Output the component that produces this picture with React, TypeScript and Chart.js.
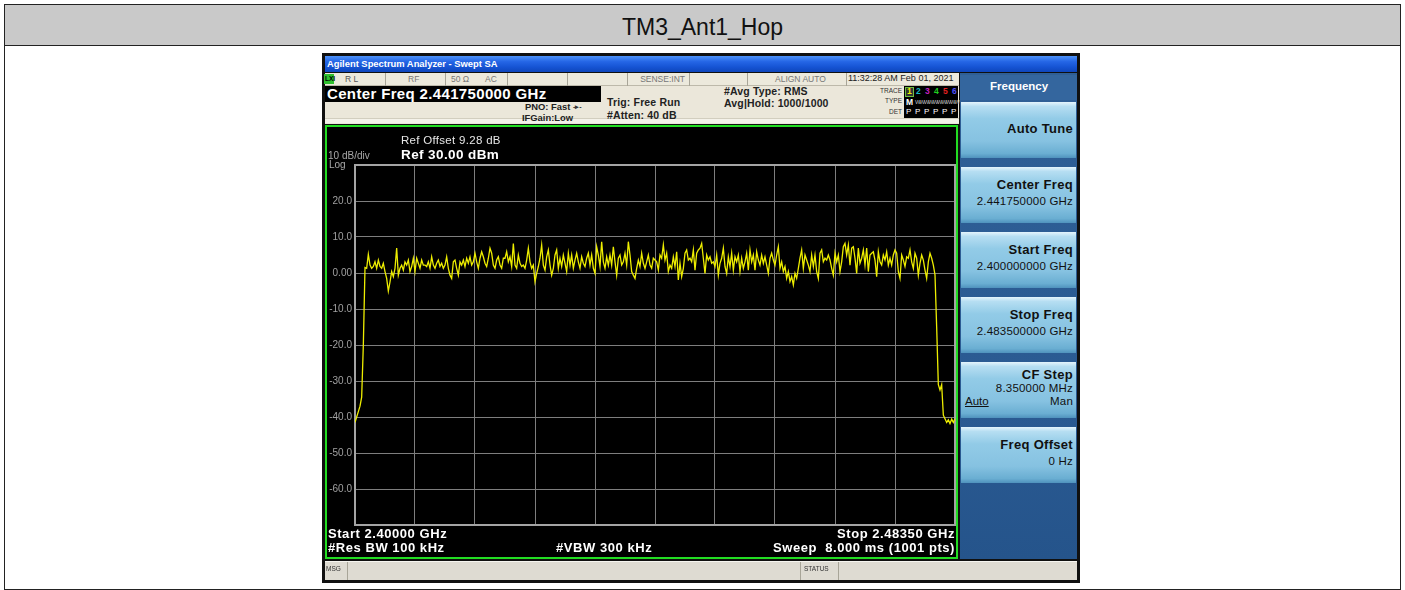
import React, { useEffect, useRef } from "react";
import { Chart, registerables } from "chart.js";

Chart.register(...registerables);

// ---- data ----
const startFreqMHz = 2400;
const stopFreqMHz = 2483.5;
const yTickValues = [30, 20, 10, 0, -10, -20, -30, -40, -50, -60, -70];
const yTickLabels = ["", "20.0", "10.0", "0.00", "-10.0", "-20.0", "-30.0", "-40.0", "-50.0", "-60.0", ""];

// trace levels (dBm), left to right
const traceSeg1 = [
  -41.5, -40.0, -38.5, -37.0, -34.5, -20.0, 1.5, 1.3, 5.2, 2.2,
  1.3, 1.8, 3.1, 1.3, 3.6, 1.8, 1.3, 2.7, 0.4, -1.5,
  -5.0, -2.5, 0.4, -1.0, 1.3, 6.9, -0.6, 1.3, 2.2, 0.8,
  3.1, 2.2, 3.6, 0.4, 1.8, 4.1, 0.4, 4.1, 2.7, 1.3,
  3.6, 2.2, 2.2, 1.8, 3.1, 1.3, 4.5, 2.2, 1.3, 2.7,
  3.6, 1.8, 2.7, 1.3, 2.2, 4.5, 1.3, -0.6, -1.5, 3.1,
  3.6, 1.3, -0.6, 3.1, 2.2, 3.6, 1.8, 4.1, 2.7, 4.5,
  2.2, 3.1, 5.5, 3.1, 1.3, 4.1, 5.9, 4.5, 2.7, 1.8,
  4.1, 6.9, 5.5, 2.2, 1.3, 3.6, 4.5, 2.2, 1.3, 4.1,
];
const traceSeg2 = [
  4.1, 5.9, 3.1, 4.5, 1.8, 8.2, 2.2, 1.3, 5.0, 2.7,
  1.8, 2.2, 1.3, 3.6, 6.9, 3.1, 1.3, 2.2, -2.4, -0.1,
  1.8, 4.1, 7.8, 2.2, 0.8, 4.5, 6.4, 2.2, -0.6, 1.3,
  5.0, 6.4, 1.3, 4.1, 1.8, 5.0, 2.7, 0.4, 5.5, 2.2,
  5.0, 1.3, 3.6, 5.5, 3.1, 1.3, 4.5, 2.7, 1.8, 4.1,
  5.5, 2.2, 5.0, 1.3, -0.1, 7.3, 5.0, 1.8, 8.7, 3.1,
  1.3, 4.5, 2.2, 5.0, 2.2, 7.3, 3.1, -0.6, 4.1, 5.0,
  2.2, 3.1, 5.5, 2.2, 8.7, 5.0, 0.4, -0.6, -1.5, 1.3,
  3.6, 1.8, 5.5, 2.7, 1.3, 3.1, 5.0, 2.2, 1.3, 4.1,
];
const traceSeg3 = [
  3.6, 3.1, 0.8, 5.0, 4.1, 7.8, 3.6, 5.5, 0.4, 2.2,
  1.3, 4.5, 1.8, 5.9, -1.9, 2.7, -1.0, 1.3, 5.5, 6.4,
  3.6, 4.1, 3.1, 6.4, 0.8, 5.5, 6.4, 6.9, 8.2, 4.1,
  -0.1, 5.0, 3.6, 4.5, 2.7, 3.1, 1.8, 5.0, -0.6, 2.7,
  4.1, 6.9, 1.8, -0.1, 4.5, 1.8, 5.5, 0.8, 4.5, 3.1,
  5.0, 0.4, 4.1, 1.3, 3.1, 5.5, 0.8, 6.4, 3.1, 5.0,
  0.8, 5.9, 3.6, 2.2, 5.0, 2.7, 4.5, 2.2, -0.1, 4.1,
  5.5, 3.6, 2.2, 5.0, 7.3, 1.3, 3.1, 0.4, 1.8, -1.5,
  0.4, -2.4, -1.0, -3.3, -0.1, -1.5, 1.3, 4.1, 6.4, 1.3,
];
const traceSeg4 = [
  5.0, 3.6, 2.2, 0.4, 5.0, 1.8, 5.0, 0.4, -1.5, 5.5,
  6.4, 3.1, 4.1, 3.6, 5.0, 3.6, 1.3, -0.6, 5.5, 3.1,
  5.0, 0.4, 3.1, 7.3, 8.2, 5.0, 7.8, 2.2, 6.9, 7.3,
  4.1, -0.1, 6.9, 2.7, 4.1, 6.4, 2.2, 6.9, 0.4, 5.0,
  5.5, 5.9, 3.6, -1.0, 5.9, 3.1, 2.2, 5.0, 3.6, 5.9,
  2.2, 4.1, 2.2, 5.0, 6.4, 5.5, 0.4, -1.5, 5.0, 3.6,
  1.8, 4.5, 4.1, 6.4, 3.1, 1.3, 5.5, 4.1, -0.6, 2.7,
  5.0, 3.6, 0.8, -1.5, 3.1, 5.5, 4.1, 2.2,
  -0.5, -15.0, -31.0, -32.5, -31.0, -39.5, -40.5, -41.5, -40.8, -41.8, -40.6, -41.5, -40.5,
];

const FONT = "'Liberation Sans', Arial, Helvetica, sans-serif";
const PAGE_W = 1405;

function T(props: any) {
  const { x, y, s, b, c, r, u, children, ls } = props;
  const style: any = {
    position: "absolute",
    top: y - s * 0.58,
    fontSize: s,
    fontWeight: b ? 700 : 400,
    color: c || "#000",
    lineHeight: 1,
    whiteSpace: "pre",
    fontFamily: FONT,
    textDecoration: u ? "underline" : undefined,
    letterSpacing: ls,
  };
  if (r) style.right = PAGE_W - x;
  else style.left = x;
  return <div style={style}>{children}</div>;
}

function Box(props: any) {
  const { l, t, w, h, style, children } = props;
  return (
    <div style={{ position: "absolute", left: l, top: t, width: w, height: h, boxSizing: "border-box", ...style }}>
      {children}
    </div>
  );
}

function SpectrumChart() {
  const ref = useRef<HTMLCanvasElement | null>(null);
  useEffect(() => {
    const canvas = ref.current;
    if (!canvas) return;
    const levels = [...traceSeg1, ...traceSeg2, ...traceSeg3, ...traceSeg4];
    const n = levels.length - 1;
    const pts = levels.map((v, i) => ({ x: startFreqMHz + (i * (stopFreqMHz - startFreqMHz)) / n, y: v }));
    const frame = {
      id: "frame",
      beforeDatasetsDraw(chart: any) {
        const { ctx, chartArea: a } = chart;
        ctx.save();
        ctx.strokeStyle = "#a4a4a4";
        ctx.lineWidth = 2;
        ctx.strokeRect(a.left, a.top, a.right - a.left, a.bottom - a.top);
        ctx.restore();
      },
    };
    const chart = new Chart(canvas, {
      type: "line",
      data: {
        datasets: [
          {
            data: pts,
            borderColor: "#eeee00",
            borderWidth: 1.3,
            pointRadius: 0,
            tension: 0,
            fill: false,
          },
        ],
      },
      options: {
        animation: false,
        responsive: false,
        maintainAspectRatio: false,
        layout: { padding: { left: 0, top: 38, right: 1, bottom: 32 } },
        plugins: { legend: { display: false }, tooltip: { enabled: false } },
        scales: {
          x: {
            type: "linear",
            min: startFreqMHz,
            max: stopFreqMHz,
            afterBuildTicks: (s: any) => {
              s.ticks = Array.from({ length: 11 }, (_, i) => ({
                value: startFreqMHz + (i * (stopFreqMHz - startFreqMHz)) / 10,
              }));
            },
            ticks: { display: false },
            grid: { color: "#7e7e7e", lineWidth: 1, drawTicks: false },
            border: { display: false },
          },
          y: {
            type: "linear",
            min: -70,
            max: 30,
            afterBuildTicks: (s: any) => {
              s.ticks = yTickValues.map((v) => ({ value: v }));
            },
            afterFit: (s: any) => {
              s.width = 28;
            },
            ticks: {
              color: "#a0a0a0",
              font: { size: 10, family: FONT },
              padding: 3,
              callback: (v: any) => {
                const i = yTickValues.indexOf(Number(v));
                return i >= 0 ? yTickLabels[i] : "";
              },
            },
            grid: { color: "#7e7e7e", lineWidth: 1, drawTicks: false },
            border: { display: false },
          },
        },
      },
      plugins: [frame],
    } as any);
    return () => chart.destroy();
  }, []);
  return (
    <div style={{ position: "absolute", left: 327, top: 127, width: 629, height: 430 }}>
      <canvas ref={ref} width={629} height={430} style={{ display: "block", background: "#000" }} />
    </div>
  );
}

const btnGrad = "linear-gradient(to bottom, #e4f4fc 0%, #b6def2 8%, #92cbe7 30%, #86c2e1 70%, #6aaed2 92%, #4f92bd 100%)";

export default function App() {
  const btnTops = [102, 167, 232, 297, 362, 427];
  const sep = (x: number, t: number, h: number) => (
    <Box l={x} t={t} w={1} h={h} style={{ background: "#a8a598" }} />
  );
  return (
    <div style={{ position: "absolute", left: 0, top: 0, width: 1405, height: 590, background: "#fff", overflow: "hidden", fontFamily: FONT }}>
      {/* report table */}
      <Box l={4} t={4} w={1397} h={586} style={{ border: "1px solid #222" }} />
      <Box l={5} t={5} w={1395} h={41} style={{ background: "#c9c9c9", borderBottom: "1px solid #222" }} />
      <div style={{ position: "absolute", left: 5, width: 1395, top: 16, textAlign: "center", fontSize: 23, color: "#111", fontFamily: FONT, lineHeight: 1 }}>
        TM3_Ant1_Hop
      </div>

      {/* screenshot frame */}
      <Box l={322} t={53} w={758} h={530} style={{ background: "#101010" }} />
      {/* title bar */}
      <Box l={325} t={56} w={752} h={16} style={{ background: "linear-gradient(to bottom, #4d92f8 0%, #2566e6 35%, #1553d3 70%, #0f46bb 100%)" }} />
      <T x={327} y={64.5} s={9.4} b c="#fff">Agilent Spectrum Analyzer - Swept SA</T>
      {/* status row */}
      <Box l={325} t={73} w={634} h={13} style={{ background: "#ece9dc", borderBottom: "1px solid #bdb9aa" }} />
      <Box l={324} t={74} w={10} h={10} style={{ background: "#2ec02e" }} />
      <T x={325} y={79.5} s={6.5} b c="#000">LXI</T>
      <T x={345} y={79.5} s={8.5} c="#555">R L</T>
      {sep(385, 73, 13)}
      <T x={408} y={79.5} s={8.5} c="#777">RF</T>
      {sep(445, 73, 13)}
      <T x={451} y={79.5} s={8.5} c="#777">50 Ω</T>
      <T x={485} y={79.5} s={8.5} c="#777">AC</T>
      {sep(507, 73, 13)}
      {sep(567, 73, 13)}
      {sep(627, 73, 13)}
      <T x={685} y={79.5} s={8.5} c="#777" r>SENSE:INT</T>
      {sep(689, 73, 13)}
      {sep(747, 73, 13)}
      <T x={775} y={79.5} s={8.5} c="#777">ALIGN AUTO</T>
      {sep(846, 73, 13)}
      <T x={848} y={79.5} s={9} c="#222">11:32:28 AM Feb 01, 2021</T>
      {/* info row */}
      <Box l={325} t={86} w={634} h={38} style={{ background: "#ebe7da" }} />
      <Box l={325} t={118} w={634} h={5} style={{ background: "#f4f2ea", borderTop: "1px solid #d2cebf" }} />
      <Box l={325} t={86} w={276} h={16} style={{ background: "#000" }} />
      <T x={327} y={94.5} s={15} b c="#fff" ls={0.35}>Center Freq 2.441750000 GHz</T>
      <T x={525} y={107.5} s={9.4} b c="#222">PNO: Fast</T>
      <T x={573} y={107} s={7} b c="#333">-▸-</T>
      <T x={522} y={118} s={9.4} b c="#222">IFGain:Low</T>
      <T x={607} y={103} s={10.5} b c="#222" ls={0.15}>Trig: Free Run</T>
      <T x={607} y={116} s={10.5} b c="#222" ls={0.15}>#Atten: 40 dB</T>
      <T x={724} y={92} s={10.5} b c="#222" ls={0.15}>#Avg Type: RMS</T>
      <T x={724} y={104} s={10.5} b c="#222" ls={0.15}>Avg|Hold: 1000/1000</T>
      {/* trace box */}
      <T x={902} y={92} s={6.5} c="#333" r>TRACE</T>
      <T x={902} y={102} s={6.5} c="#333" r>TYPE</T>
      <T x={902} y={113} s={6.5} c="#333" r>DET</T>
      <Box l={904} t={86} w={54} h={32} style={{ background: "#000" }} />
      <Box l={905} t={87} w={9} h={10} style={{ border: "1px solid #6fbf3f", background: "#333" }} />
      <T x={907} y={92} s={8.5} b c="#f0f000">1</T>
      <T x={916} y={92} s={8.5} b c="#18b8c0">2</T>
      <T x={925} y={92} s={8.5} b c="#c020c0">3</T>
      <T x={934} y={92} s={8.5} b c="#20d020">4</T>
      <T x={943} y={92} s={8.5} b c="#e02020">5</T>
      <T x={952} y={92} s={8.5} b c="#5050ff">6</T>
      <T x={906} y={102.5} s={8.5} b c="#fff">M</T>
      <T x={915} y={102.5} s={6} c="#bbb" ls={-1.3}>WWWWWWWWWW</T>
      <T x={906} y={113} s={8} c="#fff">P</T>
      <T x={915} y={113} s={8} c="#fff">P</T>
      <T x={924} y={113} s={8} c="#fff">P</T>
      <T x={933} y={113} s={8} c="#fff">P</T>
      <T x={942} y={113} s={8} c="#fff">P</T>
      <T x={951} y={113} s={8} c="#fff">P</T>

      {/* plot window */}
      <Box l={325} t={125} w={633} h={434} style={{ border: "2px solid #22dd22", background: "#000" }} />
      <SpectrumChart />
      <T x={401} y={142} s={11.5} c="#e6e6e6" ls={0.3}>Ref Offset 9.28 dB</T>
      <T x={401} y={156} s={13.5} b c="#fff" ls={0.4}>Ref 30.00 dBm</T>
      <T x={328} y={157} s={10} c="#a8a8a8">10 dB/div</T>
      <T x={329} y={166} s={10} c="#a8a8a8">Log</T>
      <T x={328} y={534.5} s={13} b c="#fff" ls={0.55}>Start 2.40000 GHz</T>
      <T x={328} y={549} s={13} b c="#fff" ls={0.55}>#Res BW 100 kHz</T>
      <T x={556} y={549} s={13} b c="#fff" ls={0.55}>#VBW 300 kHz</T>
      <T x={955} y={534.5} s={13} b c="#fff" r ls={0.55}>Stop 2.48350 GHz</T>
      <T x={955} y={549} s={13} b c="#fff" r ls={0.55}>Sweep  8.000 ms (1001 pts)</T>

      {/* soft-key panel */}
      <Box l={960} t={73} w={117} h={486} style={{ background: "linear-gradient(to bottom, #2f5f96, #2a5a92 70%, #25548b)" }} />
      <Box l={960} t={75} w={117} h={25} style={{ background: "#34669e" }} />
      <T x={990} y={87.5} s={11.5} b c="#fff">Frequency</T>
      {btnTops.map((t) => (
        <Box key={t} l={961} t={t} w={115} h={56} style={{ background: btnGrad }} />
      ))}
      <T x={1073} y={130} s={13} b c="#111" r ls={0.3}>Auto Tune</T>
      <T x={1073} y={186} s={13} b c="#111" r ls={0.3}>Center Freq</T>
      <T x={1073} y={203} s={11.5} c="#111" r ls={0.2}>2.441750000 GHz</T>
      <T x={1073} y={251} s={13} b c="#111" r ls={0.3}>Start Freq</T>
      <T x={1073} y={268} s={11.5} c="#111" r ls={0.2}>2.400000000 GHz</T>
      <T x={1073} y={316} s={13} b c="#111" r ls={0.3}>Stop Freq</T>
      <T x={1073} y={333} s={11.5} c="#111" r ls={0.2}>2.483500000 GHz</T>
      <T x={1073} y={376} s={13} b c="#111" r ls={0.3}>CF Step</T>
      <T x={1073} y={389.5} s={11.5} c="#111" r ls={0.2}>8.350000 MHz</T>
      <T x={965} y={403} s={11.5} c="#111" u>Auto</T>
      <T x={1073} y={403} s={11.5} c="#111" r ls={0.2}>Man</T>
      <T x={1073} y={446} s={13} b c="#111" r ls={0.3}>Freq Offset</T>
      <T x={1073} y={463} s={11.5} c="#111" r ls={0.2}>0 Hz</T>

      {/* message bar */}
      <Box l={325} t={561} w={752} h={19} style={{ background: "#dedbd2", borderTop: "1px solid #f6f5f0" }} />
      <T x={326} y={570} s={6.5} c="#333">MSG</T>
      {sep(347, 562, 18)}
      {sep(800, 562, 18)}
      <T x={804} y={570} s={6.5} c="#333">STATUS</T>
      {sep(838, 562, 18)}
    </div>
  );
}
